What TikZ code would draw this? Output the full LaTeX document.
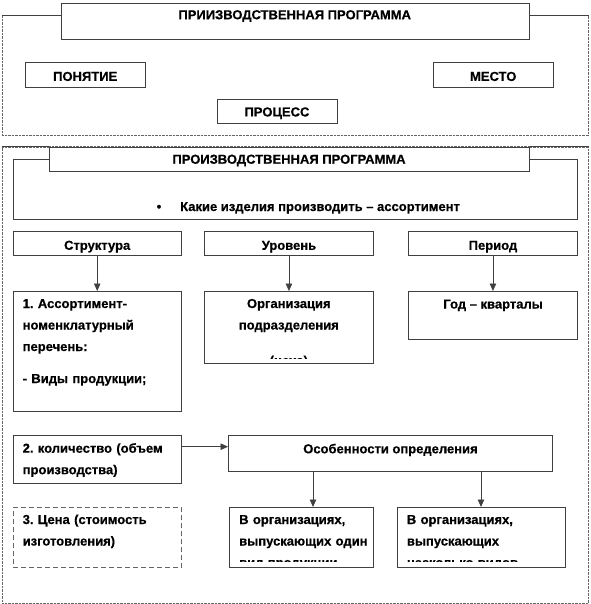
\documentclass[tikz,border=0pt]{standalone}
\usepackage{fontspec}
\setmainfont{Liberation Sans}[BoldFeatures={FakeBold=0.5}]
\usetikzlibrary{arrows.meta}
\begin{document}
\frenchspacing
\begin{tikzpicture}[x=1pt,y=-1pt,
  box/.style={draw=black!75, line width=0.9pt, fill=white, inner sep=0pt, anchor=north west},
  dashbox/.style={box, draw=black!60, dash pattern=on 5pt off 3pt},
  dotframe/.style={draw=black!60, line width=0.8pt, dash pattern=on 0.7pt off 0.7pt, inner sep=0pt, anchor=north west},
  solidline/.style={draw=black!75, line width=0.9pt},
  dotline/.style={draw=black!60, line width=0.8pt, dash pattern=on 0.7pt off 0.7pt},
  txt/.style={font=\fontsize{13}{21.5}\selectfont\bfseries\frenchspacing, inner sep=0pt},
  ltxt/.style={txt, text width=160pt, align=left, anchor=base west},
  ctxt/.style={txt, text width=168pt, align=center, anchor=base},
  arr/.style={draw=black!75, line width=0.8pt, -{Triangle[width=6.5pt,length=7.5pt]}}]
\useasboundingbox (0,0) rectangle (590,604);

% ---------- panel 1 ----------
\node[dotframe, minimum width=586.5pt, minimum height=120pt] (p1) at (1.5,15) {};
\draw[solidline] (p1.north west) -- (p1.north east);
\node[box, minimum width=468.5pt, minimum height=35.5pt] (t1) at (60.5,3.5) {};
\node[txt] (t1t) at (294.7,16) {ПРИИЗВОДСТВЕННАЯ ПРОГРАММА};
\node[box, minimum width=120.5pt, minimum height=25pt] (pon) at (24.5,62.5) {};
\node[txt] (pont) at ([yshift=-1pt]pon.center) {ПОНЯТИЕ};
\node[box, minimum width=120.5pt, minimum height=25pt] (mes) at (432.5,62.5) {};
\node[txt] (mest) at ([yshift=-1pt]mes.center) {МЕСТО};
\node[box, minimum width=120pt, minimum height=24.5pt] (pro) at (216.5,99) {};
\node[txt] (prot) at ([yshift=-1.5pt]pro.center) {ПРОЦЕСС};

% ---------- panel 2 ----------
\node[dotframe, minimum width=586.5pt, minimum height=456pt] (p2) at (1.5,146.7) {};
\draw[solidline] (p2.north west) -- (p2.north east);
\node[box, minimum width=564pt, minimum height=59.5pt] (big) at (12.5,159.5) {};
\node[box, minimum width=480pt, minimum height=24.3pt] (t2) at (49,146.7) {};
\draw[white, line width=1.2pt] (t2.north west) -- (t2.north east);
\draw[dotline] (t2.north west) -- (t2.north east);
\node[txt] (t2t) at (289,160.5) {ПРОИЗВОДСТВЕННАЯ ПРОГРАММА};
\node[txt, anchor=base] (bul) at (159,211) {•};
\node[txt, anchor=base west] (ask) at (180,211) {Какие изделия производить – ассортимент};

\node[box, minimum width=168.5pt, minimum height=24.3pt] (str) at (12.5,230.7) {};
\node[txt, anchor=base] (strt) at ([yshift=-6.5pt]str.center) {Структура};
\node[box, minimum width=168.4pt, minimum height=24.3pt] (urv) at (204.3,230.7) {};
\node[txt, anchor=base] (urvt) at ([yshift=-6.5pt]urv.center) {Уровень};
\node[box, minimum width=168.4pt, minimum height=24.3pt] (per) at (408.3,230.7) {};
\node[txt, anchor=base] (pert) at ([yshift=-6.5pt]per.center) {Период};

\node[box, minimum width=168.5pt, minimum height=119.7pt] (b1) at (12.5,291) {};
\node[ltxt] (b1t) at ([xshift=10pt,yshift=-17pt]b1.north west)
  {1. Ассортимент-\\номенклатурный\\перечень:\\[10.5pt]- Виды продукции;};

\node[box, minimum width=168.7pt, minimum height=71.7pt] (org) at (204,291) {};
\begin{scope}
  \clip (204,291) rectangle (372.7,358.5);
  \node[ctxt] (orgt) at ([yshift=-17pt]org.north)
    {Организация\\подразделения\\[14pt](цеха)};
\end{scope}

\node[box, minimum width=168.7pt, minimum height=48pt] (god) at (408.3,291) {};
\node[txt, anchor=base] (godt) at ([yshift=-17.5pt]god.north) {Год – кварталы};

\draw[arr] (str.south) -- (str.south |- b1.north);
\draw[arr] (urv.south) -- (urv.south |- org.north);
\draw[arr] (per.south) -- (per.south |- god.north);

\node[box, minimum width=168.5pt, minimum height=48pt] (b2) at (12.5,434.7) {};
\node[ltxt] (b2t) at ([xshift=10pt,yshift=-18pt]b2.north west)
  {2. количество (объем\\производства)};

\node[box, minimum width=324pt, minimum height=35.7pt] (osb) at (228,435) {};
\node[txt, anchor=base] (osbt) at (osb.center) {Особенности определения};

\coordinate (a2) at (228,446.7);
\draw[arr] (b2.east |- a2) -- (a2);

\node[dashbox, minimum width=168.5pt, minimum height=59.7pt] (b3) at (12.5,507) {};
\node[ltxt] (b3t) at ([xshift=10pt,yshift=-17pt]b3.north west)
  {3. Цена (стоимость\\изготовления)};

\node[box, minimum width=143.7pt, minimum height=59.7pt] (v1) at (229,507) {};
\begin{scope}
  \clip (229,507) rectangle (372.7,561.8);
  \node[ltxt, text width=135pt] (v1t) at ([xshift=10pt,yshift=-17pt]v1.north west)
    {В организациях,\\выпускающих один\\вид продукции};
\end{scope}

\node[box, minimum width=168.3pt, minimum height=59.7pt] (v2) at (396.7,507) {};
\begin{scope}
  \clip (396.7,507) rectangle (565,561.8);
  \node[ltxt] (v2t) at ([xshift=10pt,yshift=-17pt]v2.north west)
    {В организациях,\\выпускающих\\несколько видов};
\end{scope}

\coordinate (o1) at (313,470.7);
\coordinate (o2) at (481,470.7);
\draw[arr] (o1) -- (o1 |- v1.north);
\draw[arr] (o2) -- (o2 |- v2.north);
\end{tikzpicture}
\end{document}
